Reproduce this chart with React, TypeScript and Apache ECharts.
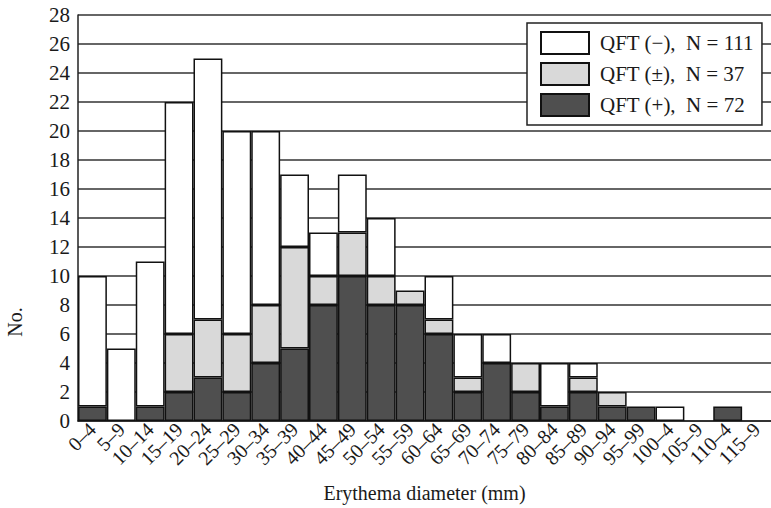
import React, { useEffect, useRef } from "react";
import * as echarts from "echarts";

const categories = [
  "0–4", "5–9", "10–14", "15–19", "20–24", "25–29", "30–34", "35–39",
  "40–44", "45–49", "50–54", "55–59", "60–64", "65–69", "70–74", "75–79",
  "80–84", "85–89", "90–94", "95–99", "100–4", "105–9", "110–4", "115–9",
];
const qftPositive = [1, 0, 1, 2, 3, 2, 4, 5, 8, 10, 8, 8, 6, 2, 4, 2, 1, 2, 1, 1, 0, 0, 1, 0];
const qftEquivocal = [0, 0, 0, 4, 4, 4, 4, 7, 2, 3, 2, 1, 1, 1, 0, 2, 0, 1, 1, 0, 0, 0, 0, 0];
const qftNegative = [9, 5, 10, 16, 18, 14, 12, 5, 3, 4, 4, 0, 3, 3, 2, 0, 3, 1, 0, 0, 1, 0, 0, 0];
const seriesNames = ["QFT (−),  N = 111", "QFT (±),  N = 37", "QFT (+),  N = 72"];
const yMax = 28;
const yInterval = 2;

const FONT = "'Liberation Serif', 'DejaVu Serif', serif";

export default function App() {
  const ref = useRef<HTMLDivElement>(null);
  useEffect(() => {
    if (!ref.current) return;
    const chart = echarts.init(ref.current, undefined, { renderer: "svg" });
    const toData = (arr: number[]) => arr.map((v) => (v === 0 ? null : v));
    const barBase = {
      type: "bar" as const,
      stack: "total",
      barCategoryGap: 0,
      barGap: "0%",
      z: 3,
    };
    chart.setOption({
      animation: false,
      backgroundColor: "#ffffff",
      textStyle: { fontFamily: FONT },
      grid: { left: 78, top: 15, right: 0, bottom: 82, containLabel: false },
      legend: {
        orient: "vertical",
        left: 527,
        top: 23,
        icon: "rect",
        itemWidth: 48,
        itemHeight: 22,
        itemGap: 7,
        padding: [8, 8, 8, 13],
        borderColor: "#222",
        borderWidth: 1.5,
        backgroundColor: "#ffffff",
        data: [seriesNames[0], seriesNames[1], seriesNames[2]],
        textStyle: { fontFamily: FONT, fontSize: 21, color: "#1a1a1a", padding: [0, 0, 0, 6] },
        z: 10,
      },
      xAxis: {
        type: "category",
        data: categories,
        name: "Erythema diameter (mm)",
        nameLocation: "middle",
        nameGap: 62,
        nameTextStyle: { fontFamily: FONT, fontSize: 20, color: "#1a1a1a" },
        axisLine: { show: true, lineStyle: { color: "#222", width: 1.5 } },
        axisTick: { show: false },
        axisLabel: {
          rotate: 45,
          interval: 0,
          margin: 5,
          fontFamily: FONT,
          fontSize: 20,
          color: "#1a1a1a",
        },
      },
      yAxis: {
        type: "value",
        min: 0,
        max: yMax,
        interval: yInterval,
        axisLine: { show: true, lineStyle: { color: "#222", width: 1.5 } },
        axisTick: { show: false },
        axisLabel: { fontFamily: FONT, fontSize: 21, color: "#1a1a1a", margin: 8 },
        splitLine: { show: true, lineStyle: { color: "#333", width: 1.5 } },
      },
      graphic: [
        {
          type: "text",
          x: 15,
          y: 322,
          rotation: Math.PI / 2,
          style: {
            text: "No.",
            fontFamily: FONT,
            fontSize: 20,
            fill: "#1a1a1a",
            textAlign: "center",
            textVerticalAlign: "middle",
          },
        },
      ],
      series: [
        {
          ...barBase,
          name: seriesNames[2],
          data: toData(qftPositive),
          itemStyle: { color: "#4f4f4f", borderColor: "#111", borderWidth: 1.5 },
        },
        {
          ...barBase,
          name: seriesNames[1],
          data: toData(qftEquivocal),
          itemStyle: { color: "#d9d9d9", borderColor: "#111", borderWidth: 1.5 },
        },
        {
          ...barBase,
          name: seriesNames[0],
          data: toData(qftNegative),
          itemStyle: { color: "#ffffff", borderColor: "#111", borderWidth: 1.5 },
        },
      ],
    });
    return () => chart.dispose();
  }, []);
  return <div ref={ref} style={{ width: 771, height: 508, position: "absolute", left: 0, top: 0 }} />;
}
